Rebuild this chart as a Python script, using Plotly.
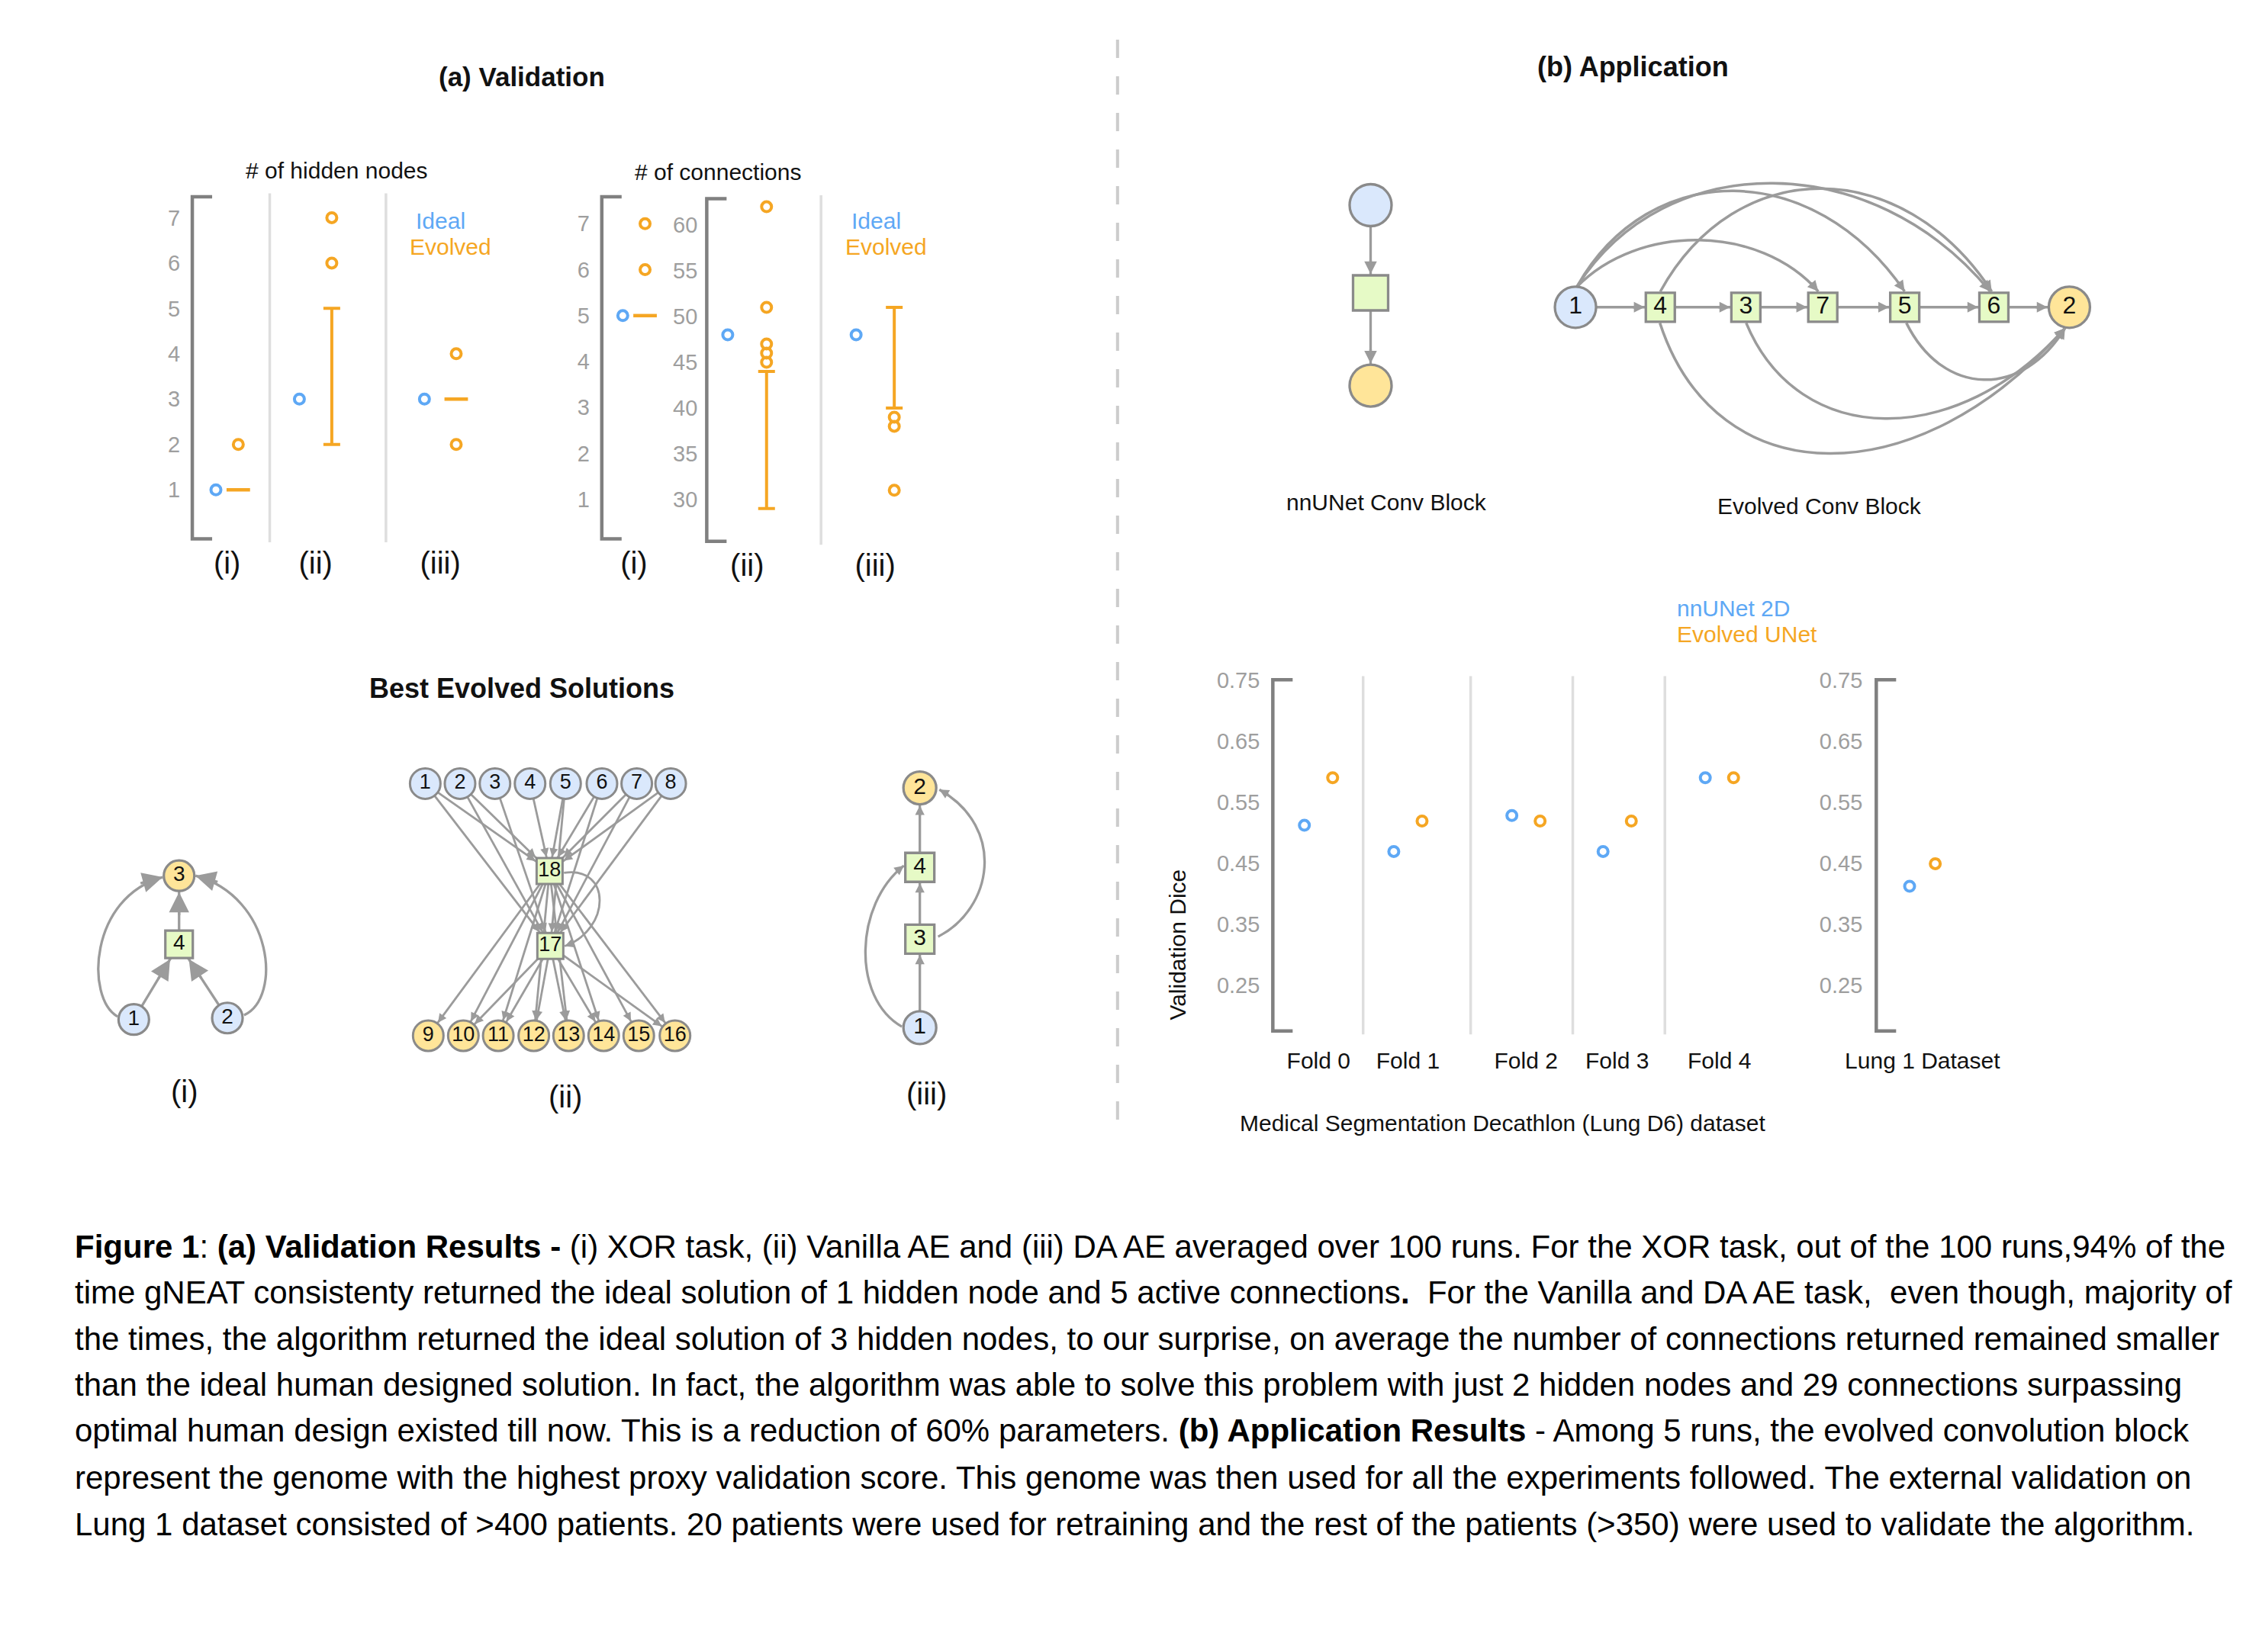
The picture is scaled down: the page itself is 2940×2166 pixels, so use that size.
import math
import plotly.graph_objects as go

# ======================= DATA =======================
TASKS = ["(i)", "(ii)", "(iii)"]
HIDDEN_IDEAL = [1, 3, 3]
HIDDEN_TYPICAL = [1, None, 3]
HIDDEN_LOW = [None, 2, None]
HIDDEN_HIGH = [None, 5, None]
HIDDEN_OUTLIERS = [[2], [6, 7], [2, 4]]
HIDDEN_TICKS = [1, 2, 3, 4, 5, 6, 7]

XOR_TASK = ["(i)"]
XOR_CONN_IDEAL = [5]
XOR_CONN_TYPICAL = [5]
XOR_CONN_OUTLIERS = [[6, 7]]
XOR_CONN_TICKS = [1, 2, 3, 4, 5, 6, 7]

AE_TASKS = ["(ii)", "(iii)"]
AE_CONN_IDEAL = [48, 48]
AE_CONN_LOW = [29, 40]
AE_CONN_HIGH = [44, 51]
AE_CONN_OUTLIERS = [[45, 46, 47, 51, 62], [31, 38, 39]]
AE_CONN_TICKS = [30, 35, 40, 45, 50, 55, 60]

FOLDS = ["Fold 0", "Fold 1", "Fold 2", "Fold 3", "Fold 4"]
DICE_NNUNET = [0.512, 0.469, 0.528, 0.469, 0.590]
DICE_EVOLVED = [0.590, 0.519, 0.519, 0.519, 0.590]
EXTERNAL = ["Lung 1 Dataset"]
EXT_NNUNET = [0.412]
EXT_EVOLVED = [0.449]
DICE_TICKS = [0.25, 0.35, 0.45, 0.55, 0.65, 0.75]

# graph structures (node kind: in / out / hid)
XOR_KIND = {"1": "in", "2": "in", "3": "out", "4": "hid"}
XOR_EDGES = [("1", "4"), ("2", "4"), ("4", "3")]
XOR_ARCS = [("1", "3"), ("2", "3")]

AE_KIND = {**{str(i): "in" for i in range(1, 9)},
           **{str(i): "out" for i in range(9, 17)}, "17": "hid", "18": "hid"}
AE_EDGES = ([(s, "18") for s in ["1", "2", "4", "5", "6", "7", "8"]]
            + [(s, "17") for s in ["1", "2", "3", "5", "6", "7", "8"]]
            + [("18", t) for t in ["9", "10", "11", "12", "13", "14", "15", "16"]]
            + [("17", t) for t in ["10", "11", "12", "13", "14", "16"]])
AE_ARCS = [("18", "17")]

DA_KIND = {"1": "in", "2": "out", "3": "hid", "4": "hid"}
DA_EDGES = [("1", "3"), ("3", "4"), ("4", "2")]
DA_ARCS = [("1", "4"), ("3", "2")]

NN_KIND = {"a": "in", "b": "hid", "c": "out"}
NN_EDGES = [("a", "b"), ("b", "c")]

EVO_KIND = {"1": "in", "4": "hid", "3": "hid", "7": "hid", "5": "hid", "6": "hid", "2": "out"}
EVO_EDGES = [("1", "4"), ("4", "3"), ("3", "7"), ("7", "5"), ("5", "6"), ("6", "2")]
EVO_ARCS = [("1", "7"), ("1", "5"), ("1", "6"), ("4", "6"), ("4", "2"), ("3", "2"), ("5", "2")]

CAPTION = [
    "<b>Figure 1</b>: <b>(a) Validation Results -</b> (i) XOR task, (ii) Vanilla AE and (iii) DA AE averaged over 100 runs. For the XOR task, out of the 100 runs,94% of the",
    "time gNEAT consistenty returned the ideal solution of 1 hidden node and 5 active connections<b>.</b>  For the Vanilla and DA AE task,  even though, majority of",
    "the times, the algorithm returned the ideal solution of 3 hidden nodes, to our surprise, on average the number of connections returned remained smaller",
    "than the ideal human designed solution. In fact, the algorithm was able to solve this problem with just 2 hidden nodes and 29 connections surpassing",
    "optimal human design existed till now. This is a reduction of 60% parameters. <b>(b) Application Results</b> - Among 5 runs, the evolved convolution block",
    "represent the genome with the highest proxy validation score. This genome was then used for all the experiments followed. The external validation on",
    "Lung 1 dataset consisted of &gt;400 patients. 20 patients were used for retraining and the rest of the patients (&gt;350) were used to validate the algorithm.",
]

# ======================= STYLE / LAYOUT =======================
W_PX, H_PX = 2940, 2166
WU = 1560.0                 # layout units across the page
U = W_PX / WU               # px per layout unit
HU = H_PX / U               # page height in layout units

BLUE = "#5ea8f5"
ORANGE = "#f5a623"
AXIS_GREY = "#808080"
SEP_GREY = "#dedede"
TICK_GREY = "#9e9e9e"
EDGE = "#9b9b9b"
NODE_LINE = "#8a8a8a"
FILL = {"in": "#dae8fc", "out": "#ffe599", "hid": "#e6fac6"}
FONT = "Liberation Sans, Arial, Helvetica, sans-serif"
CAP = 26 / U

fig = go.Figure()
shapes, annotations, axes = [], [], {}


def P(xu):
    return xu / WU


def Q(yu):
    return 1.0 - yu / HU


def text(s, x, y, size=30, color="#111", xanchor="center", bold=False, angle=0):
    annotations.append(dict(text=f"<b>{s}</b>" if bold else s, x=x, y=y, xref="x", yref="y",
                            showarrow=False, xanchor=xanchor, yanchor="middle",
                            font=dict(size=size, color=color, family=FONT), textangle=angle))


# ---------- dot-chart helpers ----------
def add_dot_axes(n, xdom, ydom, xrange, yrange, xvals, xtext, xfont, xstand, yvals, ytext, ystand):
    axes[f"xaxis{n}"] = dict(domain=[P(xdom[0]), P(xdom[1])], range=xrange, anchor=f"y{n}",
                             showgrid=False, zeroline=False, showline=False, ticks="",
                             tickmode="array", tickvals=xvals, ticktext=xtext, automargin=False,
                             tickfont=xfont, ticklabelstandoff=xstand, fixedrange=True)
    axes[f"yaxis{n}"] = dict(domain=[Q(ydom[1]), Q(ydom[0])], range=yrange, anchor=f"x{n}",
                             showgrid=False, zeroline=False, showline=False, ticks="",
                             tickmode="array", tickvals=yvals, ticktext=ytext, automargin=False,
                             tickfont=dict(size=29, color=TICK_GREY, family=FONT),
                             ticklabelstandoff=ystand, fixedrange=True)
    x0, xc = P(xdom[0]), P(xdom[0] + CAP)
    yt, yb = Q(ydom[0]), Q(ydom[1])
    shapes.append(dict(type="path", xref="paper", yref="paper",
                       path=f"M {xc},{yt} L {x0},{yt} L {x0},{yb} L {xc},{yb}",
                       line=dict(color=AXIS_GREY, width=4.5), fillcolor="rgba(0,0,0,0)"))


def add_separators(n, xs):
    for s in xs:
        shapes.append(dict(type="line", xref=f"x{n}", yref=f"y{n} domain", x0=s, x1=s,
                           y0=-0.01, y1=1.01, line=dict(color=SEP_GREY, width=3.5)))


def dots(n, xs, ys, color):
    fig.add_trace(go.Scatter(x=xs, y=ys, mode="markers", xaxis=f"x{n}", yaxis=f"y{n}",
                             marker=dict(symbol="circle-open", size=13, color=color,
                                         line=dict(width=4, color=color)),
                             hoverinfo="skip", cliponaxis=False))


def dashes(n, xs, ys):
    fig.add_trace(go.Scatter(x=xs, y=ys, mode="markers", xaxis=f"x{n}", yaxis=f"y{n}",
                             marker=dict(symbol="line-ew", size=22, color=ORANGE,
                                         line=dict(width=4.5, color=ORANGE)),
                             hoverinfo="skip", cliponaxis=False))


def ranges(n, xs, lo, hi):
    fig.add_trace(go.Scatter(x=xs, y=lo, mode="markers", xaxis=f"x{n}", yaxis=f"y{n}",
                             marker=dict(size=1, color="rgba(0,0,0,0)"),
                             error_y=dict(type="data", symmetric=False,
                                          array=[h - l for l, h in zip(lo, hi)],
                                          arrayminus=[0] * len(lo), color=ORANGE,
                                          thickness=4, width=11),
                             hoverinfo="skip", cliponaxis=False))


def evolved_marks(n, pos, off, typical, low, high, outliers):
    t = [(pos[i] + off[i], v) for i, v in enumerate(typical) if v is not None]
    if t:
        dashes(n, [a for a, _ in t], [b for _, b in t])
    r = [(pos[i] + off[i], low[i], high[i]) for i in range(len(pos)) if low[i] is not None]
    if r:
        ranges(n, [a for a, _, _ in r], [b for _, b, _ in r], [c for _, _, c in r])
    ox = [pos[i] + off[i] for i, vals in enumerate(outliers) for _ in vals]
    oy = [v for vals in outliers for v in vals]
    dots(n, ox, oy, ORANGE)


LBL_FONT = dict(size=40, color="#111", family=FONT)
FOLD_FONT = dict(size=30, color="#111", family=FONT)

# (a) hidden nodes
POS_A1, OFF_A1 = [0, 0.83, 2], [0.105, 0.152, 0.149]
add_dot_axes(2, (129.5, 345), (132.7, 370.6), [-0.3264, 2.5799], [-0.08, 7.46],
             POS_A1, TASKS, LBL_FONT, 5, HIDDEN_TICKS, [str(v) for v in HIDDEN_TICKS], 15)
add_separators(2, [0.40, 1.49])
dots(2, [p - o for p, o in zip(POS_A1, OFF_A1)], HIDDEN_IDEAL, BLUE)
evolved_marks(2, POS_A1, OFF_A1, HIDDEN_TYPICAL, HIDDEN_LOW, HIDDEN_HIGH, HIDDEN_OUTLIERS)

# (a) connections, XOR
POS_A2, OFF_A2 = [0], [0.1045]
add_dot_axes(3, (414.3, 487.3), (132.7, 370.6), [-0.3014, 0.6831], [0.143, 7.585],
             POS_A2, XOR_TASK, LBL_FONT, 5, XOR_CONN_TICKS, [str(v) for v in XOR_CONN_TICKS], 15)
dots(3, [p - o for p, o in zip(POS_A2, OFF_A2)], XOR_CONN_IDEAL, BLUE)
evolved_marks(3, POS_A2, OFF_A2, XOR_CONN_TYPICAL, [None], [None], XOR_CONN_OUTLIERS)

# (a) connections, AE
POS_A3, OFF_A3 = [1, 2], [0.1516, 0.149]
add_dot_axes(4, (487.3, 655), (134, 372.3), [0.6845, 2.5676], [25.43, 62.88],
             POS_A3, AE_TASKS, LBL_FONT, 4, AE_CONN_TICKS, [str(v) for v in AE_CONN_TICKS], 11)
add_separators(4, [1.577])
dots(4, [p - o for p, o in zip(POS_A3, OFF_A3)], AE_CONN_IDEAL, BLUE)
evolved_marks(4, POS_A3, OFF_A3, [None, None], AE_CONN_LOW, AE_CONN_HIGH, AE_CONN_OUTLIERS)

# (b) dice, MSD folds
POS_F, OFF_F = [0, 0.892, 2.07, 2.98, 4], 0.141
add_dot_axes(5, (881, 1245), (468.6, 713), [-0.456, 4.766], [0.1745, 0.751],
             POS_F, FOLDS, FOLD_FONT, 18, DICE_TICKS, [f"{v:.2f}" for v in DICE_TICKS], 16)
add_separators(5, [0.445, 1.518, 2.537, 3.456])
dots(5, [p - OFF_F for p in POS_F], DICE_NNUNET, BLUE)
dots(5, [p + OFF_F for p in POS_F], DICE_EVOLVED, ORANGE)

# (b) dice, external
POS_L, OFF_L = [0], 0.128
add_dot_axes(6, (1300.7, 1380), (468.6, 713), [-0.4605, 0.677], [0.1745, 0.751],
             POS_L, EXTERNAL, FOLD_FONT, 18, DICE_TICKS, [f"{v:.2f}" for v in DICE_TICKS], 17)
dots(6, [p - OFF_L for p in POS_L], EXT_NNUNET, BLUE)
dots(6, [p + OFF_L for p in POS_L], EXT_EVOLVED, ORANGE)


# ---------- graph drawing ----------
def boundary(k, st, ux, uy):
    if k == "hid":
        h = (st["square"] + st["lw"]) / 2
        return h / max(abs(ux), abs(uy))
    return (st["circle"] + st["lw"]) / 2


def add_head(tx, ty, ux, uy, standoff_px, st):
    hl = (5.0 * st["ew"] * st["hs"] * 1.2 + standoff_px) / U
    annotations.append(dict(x=tx, y=ty, ax=tx - ux * hl, ay=ty - uy * hl, xref="x", yref="y",
                            axref="x", ayref="y", showarrow=True, arrowhead=2,
                            arrowsize=st["hs"], arrowwidth=st["ew"], arrowcolor=EDGE,
                            standoff=standoff_px, text=""))


def cubic_through(S, E, Pk, spread=0.5):
    yc = (8 * Pk[1] - S[1] - E[1]) / 6
    s = spread * (E[0] - S[0])
    d = (8 * Pk[0] - 4 * S[0] - 4 * E[0]) / 3
    a, b = (s + d) / 2, (s - d) / 2
    return [S, (S[0] + a, yc), (E[0] - b, yc), E]


def draw_graph(pos, kind, edges, arcs, arc_ctrl, st, labels=True):
    xs, ys = [], []
    for s, t in edges:
        xs += [pos[s][0], pos[t][0], None]
        ys += [pos[s][1], pos[t][1], None]
    fig.add_trace(go.Scatter(x=xs, y=ys, mode="lines", line=dict(color=EDGE, width=st["ew"]),
                             hoverinfo="skip", xaxis="x", yaxis="y"))
    for s, t in edges:
        (x0, y0), (x1, y1) = pos[s], pos[t]
        d = math.hypot(x1 - x0, y1 - y0)
        ux, uy = (x1 - x0) / d, (y1 - y0) / d
        add_head(x1, y1, ux, uy, boundary(kind[t], st, ux, uy), st)
    for key in arcs:
        c = arc_ctrl[key]
        shapes.append(dict(type="path", xref="x", yref="y", layer="below",
                           path="M {},{} C {},{} {},{} {},{}".format(*c[0], *c[1], *c[2], *c[3]),
                           line=dict(color=EDGE, width=st["ew"]), fillcolor="rgba(0,0,0,0)"))
        ex, ey = c[3]
        tx, ty = ex - c[2][0], ey - c[2][1]
        d = math.hypot(tx, ty)
        add_head(ex, ey, tx / d, ty / d, 0, st)
    for shape, kinds, size in (("circle", ("in", "out"), st["circle"]), ("square", ("hid",), st["square"])):
        ids = [k for k in pos if kind[k] in kinds]
        if not ids:
            continue
        fig.add_trace(go.Scatter(
            x=[pos[k][0] for k in ids], y=[pos[k][1] for k in ids],
            mode="markers+text" if labels else "markers",
            text=ids if labels else None, textposition="middle center",
            textfont=dict(size=st.get("font", 28), color="#111", family=FONT),
            marker=dict(symbol=shape, size=size, color=[FILL[kind[k]] for k in ids],
                        line=dict(color=NODE_LINE, width=st["lw"])),
            hoverinfo="skip", xaxis="x", yaxis="y"))


# node placements (layout units)
XOR_POS = {"1": (88.8, 705.0), "2": (153.9, 704.0), "3": (120.3, 605.0), "4": (120.3, 652.7)}
XOR_CTRL = {("1", "3"): [(77.5, 703), (55, 690), (58, 620), (108.9, 606)],
            ("2", "3"): [(165.5, 702), (192, 690), (186, 620), (131.7, 605)]}
XOR_ST = dict(circle=40, square=36, lw=3.2, ew=3.3, hs=1.6, font=28)

AE_TOP_X = [291.5, 315.7, 340.0, 364.4, 389.1, 414.4, 438.6, 462.2]
AE_BOT_X = [293.6, 318.0, 342.3, 367.0, 391.2, 415.6, 440.0, 465.2]
AE_POS = {str(i + 1): (AE_TOP_X[i], 540.9) for i in range(8)}
AE_POS.update({str(i + 9): (AE_BOT_X[i], 716.3) for i in range(8)})
AE_POS.update({"18": (378.0, 601.7), "17": (378.5, 653.9)})
AE_CTRL = {("18", "17"): [(388, 603), (421, 598), (421, 642), (388.5, 654)]}
AE_ST = dict(circle=40, square=34, lw=3.0, ew=2.8, hs=0.8, font=27)

DA_POS = {"2": (635.5, 543.9), "4": (635.5, 599.2), "3": (635.5, 649.1), "1": (635.5, 710.7)}
DA_CTRL = {("1", "4"): [(623, 710), (588, 690), (590, 625), (624.4, 598)],
           ("3", "2"): [(648.2, 647.4), (686, 628), (696, 572), (649.1, 545.1)]}
DA_ST = dict(circle=43, square=38, lw=3.3, ew=3.3, hs=0.75, font=30)

NN_POS = {"a": (949.0, 138.5), "b": (949.0, 199.5), "c": (949.0, 264.0)}
NN_ST = dict(circle=55, square=46, lw=3.3, ew=3.3, hs=1.0)

EVO_X = {"1": 1091.5, "4": 1150.5, "3": 1210.0, "7": 1263.5, "5": 1320.5, "6": 1382.5, "2": 1435.0}
EVO_POS = {k: (v, 209.5) for k, v in EVO_X.items()}
EVO_CTRL = {
    ("1", "7"): cubic_through((1092.6, 195.2), (1260.4, 198.5), (1177.1, 162.8)),
    ("1", "5"): cubic_through((1092.6, 195.0), (1320.4, 198.5), (1201.6, 128.6)),
    ("1", "6"): cubic_through((1092.6, 195.0), (1379.9, 198.5), (1228.6, 123.2)),
    ("4", "6"): cubic_through((1150.5, 198.6), (1381.0, 198.5), (1262.0, 127.0)),
    ("4", "2"): cubic_through((1150.2, 220.4), (1432.0, 224.0), (1267.7, 311.2)),
    ("3", "2"): cubic_through((1210.2, 220.4), (1432.0, 224.0), (1306.9, 286.9)),
    ("5", "2"): cubic_through((1321.6, 220.4), (1432.0, 224.0), (1375.5, 259.9)),
}
EVO_ST = dict(circle=54, square=38, lw=3.3, ew=3.5, hs=0.8, font=32)

draw_graph(XOR_POS, XOR_KIND, XOR_EDGES, XOR_ARCS, XOR_CTRL, XOR_ST)
draw_graph(AE_POS, AE_KIND, AE_EDGES, AE_ARCS, AE_CTRL, AE_ST)
draw_graph(DA_POS, DA_KIND, DA_EDGES, DA_ARCS, DA_CTRL, DA_ST)
draw_graph(NN_POS, NN_KIND, NN_EDGES, [], {}, NN_ST, labels=False)
draw_graph(EVO_POS, EVO_KIND, EVO_EDGES, EVO_ARCS, EVO_CTRL, EVO_ST)

# ---------- texts ----------
text("(a) Validation", 358.5, 49, size=35, bold=True)
text("(b) Application", 1131.5, 42, size=36, bold=True)
text("# of hidden nodes", 229.9, 114.4)
text("# of connections", 495.0, 115.5)
text("Ideal", 284.0, 149.6, color=BLUE, xanchor="left")
text("Evolved", 279.5, 167.2, color=ORANGE, xanchor="left")
text("Ideal", 586.8, 149.6, color=BLUE, xanchor="left")
text("Evolved", 582.4, 167.2, color=ORANGE, xanchor="left")
text("Best Evolved Solutions", 358.7, 474.5, size=36, bold=True)
text("(i)", 124.3, 755.3, size=40)
text("(ii)", 388.7, 758.6, size=40)
text("(iii)", 640.3, 756.4, size=40)
text("nnUNet Conv Block", 960.0, 345.0)
text("Evolved Conv Block", 1261.0, 348.0)
text("nnUNet 2D", 1161.0, 419.0, color=BLUE, xanchor="left")
text("Evolved UNet", 1161.0, 437.0, color=ORANGE, xanchor="left")
text("Validation Dice", 815.0, 653.0, angle=-90)
text("Medical Segmentation Decathlon (Lung D6) dataset", 1041.0, 777.0)

CAP_Y = [863, 895, 927, 959, 991, 1024, 1056]
for line, yy in zip(CAPTION, CAP_Y):
    text(line, 46.5, yy, size=42, color="#000", xanchor="left")

# divider
shapes.append(dict(type="line", xref="x", yref="y", x0=773, x1=773, y0=23.3, y1=780,
                   line=dict(color="#cccccc", width=4, dash="24px,24px")))

fig.update_layout(
    width=W_PX, height=H_PX, margin=dict(l=0, r=0, t=0, b=0, pad=0, autoexpand=False),
    paper_bgcolor="white", plot_bgcolor="rgba(0,0,0,0)", showlegend=False,
    font=dict(family=FONT),
    xaxis=dict(domain=[0, 1], range=[0, WU], visible=False, fixedrange=True, automargin=False),
    yaxis=dict(domain=[0, 1], range=[HU, 0], visible=False, fixedrange=True, automargin=False),
    shapes=shapes, annotations=annotations, **axes,
)
fig.write_html("out.html")
